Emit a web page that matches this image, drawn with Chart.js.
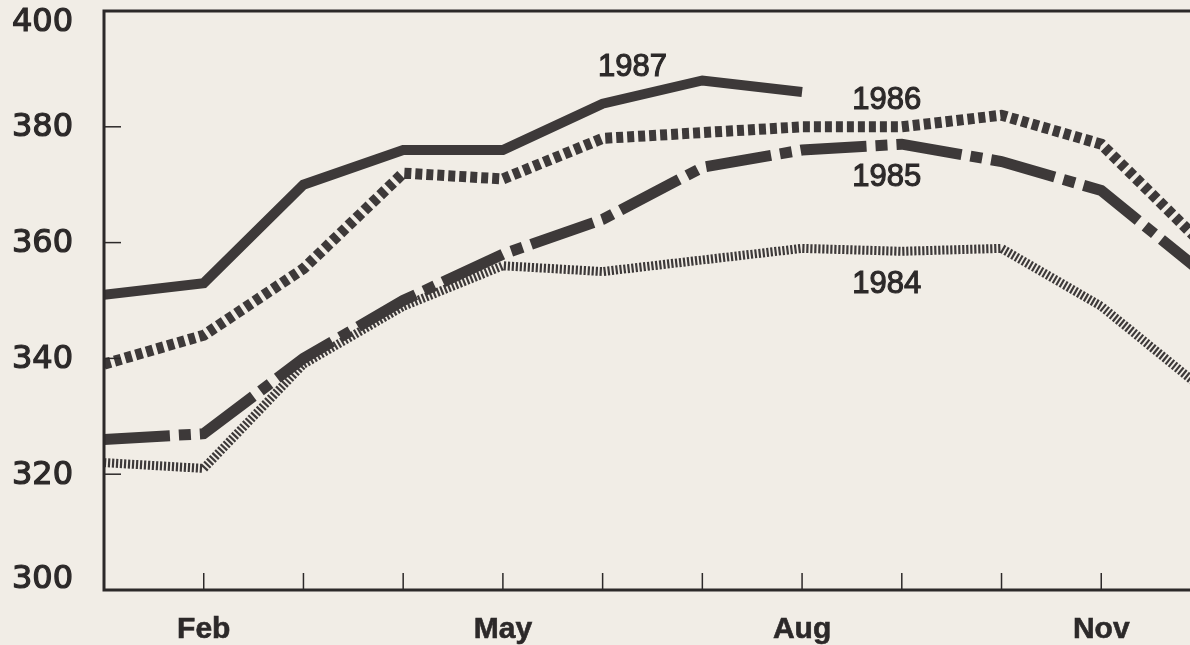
<!DOCTYPE html>
<html>
<head>
<meta charset="utf-8">
<script src="https://cdn.jsdelivr.net/npm/chart.js@4/dist/chart.umd.min.js"></script>
<style>
  html, body { margin: 0; padding: 0; background: #f1ede6; }
  #chart { display: block; }
</style>
</head>
<body>
<canvas id="chart" width="1190" height="645"></canvas>
<script>
// Months and monthly values
const months = ['Jan','Feb','Mar','Apr','May','Jun','Jul','Aug','Sep','Oct','Nov','Dec'];
const monthLabels = ['Feb','May','Aug','Nov'];
const yTicks = [300, 320, 340, 360, 380, 400];

const v1987 = [351, 353, 370, 376, 376, 384, 388, 386, null, null, null, null];
const v1986 = [339, 344, 355.5, 372, 371, 378, 379, 380, 380, 382, 377, 360];
const v1985 = [326, 327, 340, 350, 358, 364, 373, 376, 377, 374, 369, 355];
const v1984 = [322, 321, 339, 349, 356, 355, 357, 359, 358.5, 359, 349, 335];

// where the year captions sit, in axis units
const seriesNames = ['1987', '1986', '1985', '1984'];
const namePos = [[5.3, 390.3], [7.85, 384.6], [7.85, 371.3], [7.85, 352.7]];

const ink = '#3d3939';

function toPoints(vals) {
  return vals.map((v, i) => ({ x: i, y: v }));
}

// text with a thin outline so it looks as heavy as the print
function heavyText(c, txt, x, y, w) {
  c.lineWidth = w;
  c.strokeText(txt, x, y);
  c.fillText(txt, x, y);
}

//Axes, tick marks and labels drawn on top of the lines
const framePlugin = {
  id: 'frame',
  afterDatasetsDraw(chart) {
    const c = chart.ctx;
    const xs = chart.scales.x;
    const ys = chart.scales.y;
    const a = chart.chartArea;
    c.save();
    c.strokeStyle = '#2c2929';
    c.fillStyle = '#2c2929';

    // frame: left, bottom, top
    c.lineWidth = 3;
    c.beginPath();
    c.moveTo(a.right, a.top);
    c.lineTo(a.left, a.top);
    c.lineTo(a.left, a.bottom);
    c.lineTo(a.right, a.bottom);
    c.stroke();

    // month ticks
    c.lineWidth = 1.5;
    for (let i = 1; i < months.length; i++) {
      const px = xs.getPixelForValue(i);
      if (px > a.right) continue;
      c.beginPath();
      c.moveTo(px, a.bottom);
      c.lineTo(px, a.bottom - 17);
      c.stroke();
    }
    // y ticks
    yTicks.forEach(t => {
      if (t === 300 || t === 400) return;
      const py = ys.getPixelForValue(t);
      c.beginPath();
      c.moveTo(a.left, py);
      c.lineTo(a.left + 17, py);
      c.stroke();
    });

    // y labels (end ones pulled inside)
    c.font = '32px "DejaVu Sans"';
    c.textAlign = 'right';
    c.textBaseline = 'middle';
    yTicks.forEach(t => {
      let py = ys.getPixelForValue(t);
      if (t === 400) py += 11;
      if (t === 300) py -= 11;
      heavyText(c, String(t), 73, py + 1, 1.2);
    });

    // x labels
    c.font = 'bold 30px "Liberation Sans"';
    c.textAlign = 'center';
    c.textBaseline = 'middle';
    monthLabels.forEach(m => {
      const px = xs.getPixelForValue(months.indexOf(m));
      heavyText(c, m, px, 630, 0.6);
    });

    // series captions
    c.font = '31px "Liberation Sans"';
    seriesNames.forEach((n, i) => {
      heavyText(c, n, xs.getPixelForValue(namePos[i][0]), ys.getPixelForValue(namePos[i][1]), 1.1);
    });
    c.restore();
  }
};

const ctx = document.getElementById('chart');
const myChart = new Chart(ctx, {
  type: 'line',
  data: {
    datasets: [
      { label: '1987', data: toPoints(v1987), borderColor: ink, borderWidth: 10 },
      { label: '1986', data: toPoints(v1986), borderColor: ink, borderWidth: 11, borderDash: [7, 4] },
      { label: '1985', data: toPoints(v1985), borderColor: ink, borderWidth: 11, borderDash: [66, 9, 12, 9] },
      { label: '1984', data: toPoints(v1984), borderColor: ink, borderWidth: 9, borderDash: [2.2, 1.8] }
    ]
  },
  options: {
    responsive: false,
    animation: false,
    devicePixelRatio: 1,
    layout: { padding: { left: 104, top: 11, right: 0, bottom: 55 } },
    elements: {
      point: { radius: 0, hoverRadius: 0 },
      line: { tension: 0, borderCapStyle: 'butt', borderJoinStyle: 'miter', fill: false }
    },
    datasets: { line: { clip: 0, spanGaps: false } },
    plugins: { legend: { display: false }, tooltip: { enabled: false } },
    scales: {
      x: { type: 'linear', min: 0, max: 10.89, display: false },
      y: { min: 300, max: 400, display: false }
    }
  },
  plugins: [framePlugin]
});
</script>
</body>
</html>
